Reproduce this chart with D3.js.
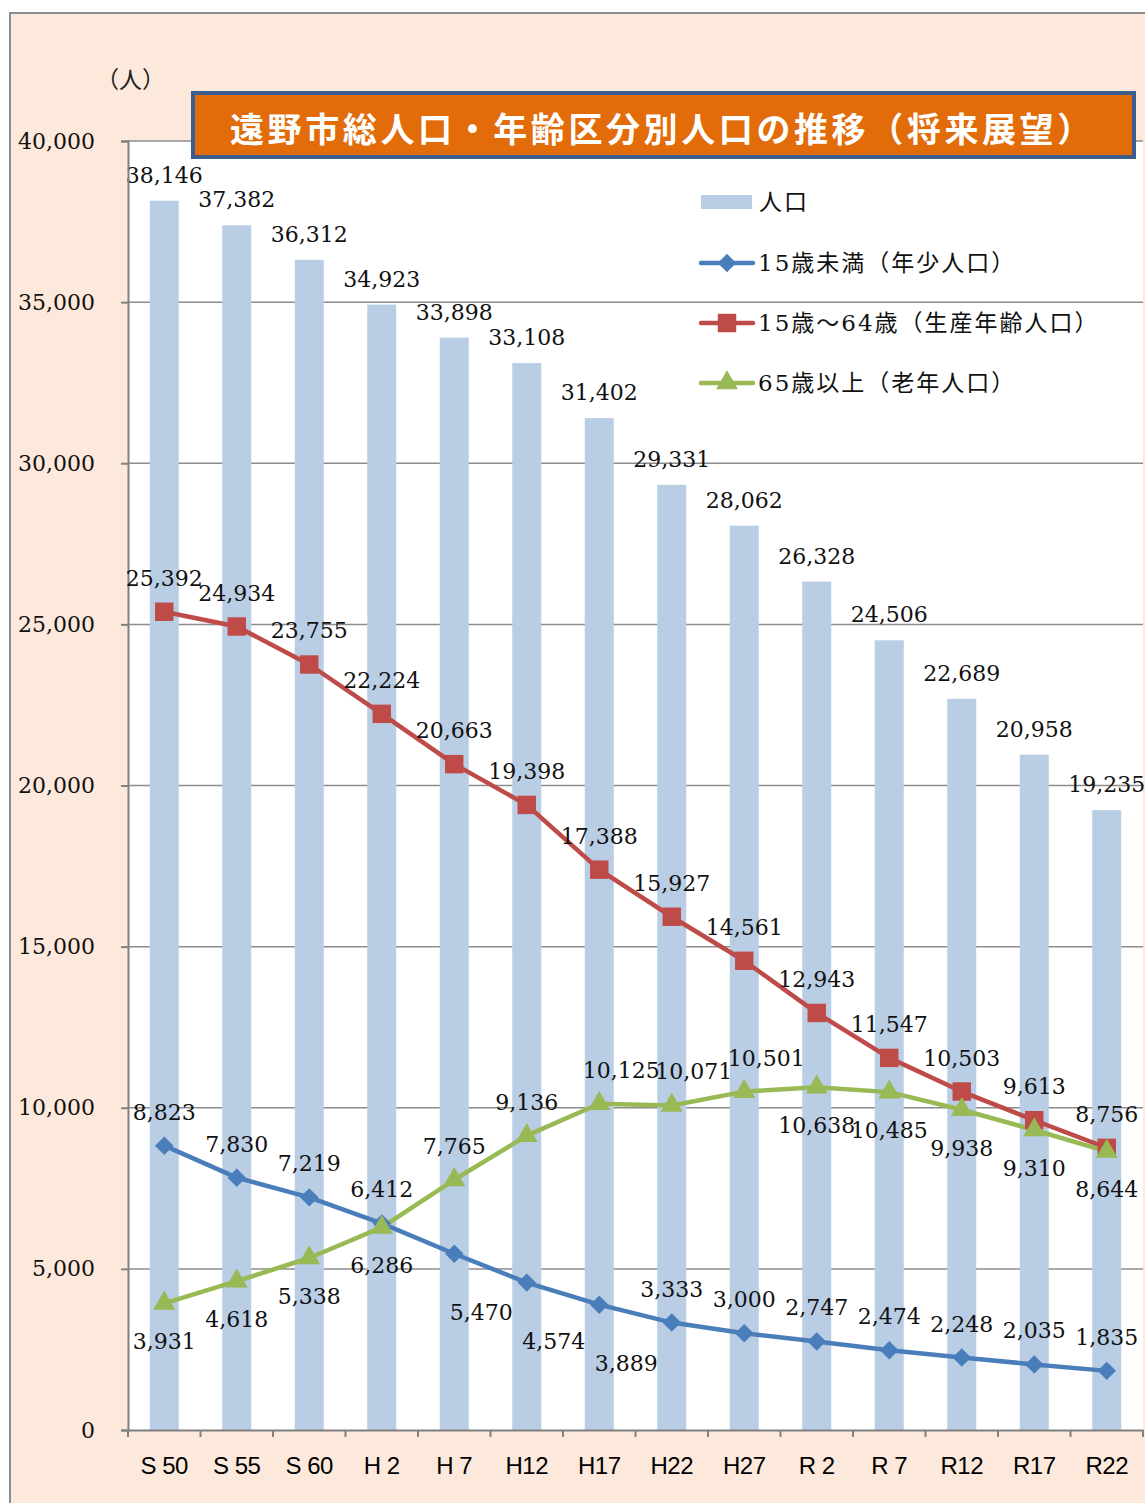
<!DOCTYPE html>
<html lang="ja">
<head>
<meta charset="UTF-8">
<script src="https://cdn.jsdelivr.net/npm/d3@7/dist/d3.min.js"></script>
<style>
  body { margin: 0; background: #fff; }
  svg text { font-family: "DejaVu Serif", "Noto Sans CJK JP", serif; }
</style>
</head>
<body>
<svg id="chart" width="1145" height="1503"></svg>
<script>
// データ
var categories = ["S 50", "S 55", "S 60", "H 2", "H 7", "H12", "H17", "H22", "H27", "R 2", "R 7", "R12", "R17", "R22"];
var total = [38146, 37382, 36312, 34923, 33898, 33108, 31402, 29331, 28062, 26328, 24506, 22689, 20958, 19235];
var under15 = [8823, 7830, 7219, 6412, 5470, 4574, 3889, 3333, 3000, 2747, 2474, 2248, 2035, 1835];
var age15to64 = [25392, 24934, 23755, 22224, 20663, 19398, 17388, 15927, 14561, 12943, 11547, 10503, 9613, 8756];
var over65 = [3931, 4618, 5338, 6286, 7765, 9136, 10125, 10071, 10501, 10638, 10485, 9938, 9310, 8644];
var yTicks = [0, 5000, 10000, 15000, 20000, 25000, 30000, 35000, 40000];
// ラベル位置 (a:上, b:下, ar:右上, br:右下)
var under15Pos = ["a", "a", "a", "a", "br", "br", "br", "a", "a", "a", "a", "a", "a", "a"];
var age15to64Pos = ["a", "a", "a", "a", "a", "a", "a", "a", "a", "a", "a", "a", "a", "a"];
var over65Pos = ["b", "b", "b", "b", "a", "a", "ar", "ar", "ar", "b", "b", "b", "b", "b"];

var svg = d3.select("#chart");
var fmt = d3.format(",");

// 背景
svg.append("rect").attr("width", 1145).attr("height", 1503).attr("fill", "#fff");
svg.append("rect")
    .attr("x", 10).attr("y", 13).attr("width", 1160).attr("height", 1520)
    .attr("fill", "#fde9db").attr("stroke", "#8c8c8c").attr("stroke-width", 2);

var plotLeft = 128, plotRight = 1143, plotTop = 141, plotBottom = 1430;
svg.append("rect")
    .attr("x", plotLeft).attr("y", plotTop)
    .attr("width", plotRight - plotLeft).attr("height", plotBottom - plotTop)
    .attr("fill", "#fff");

var x = d3.scaleBand().domain(categories).range([plotLeft, plotRight]).padding(0);
var y = d3.scaleLinear().domain([0, 40000]).range([plotBottom, plotTop]);

// グリッド
svg.append("g").selectAll("line")
    .data(yTicks.slice(1))
    .enter().append("line")
    .attr("x1", plotLeft).attr("x2", plotRight)
    .attr("y1", function (d) { return y(d); })
    .attr("y2", function (d) { return y(d); })
    .attr("stroke", "#8c8c8c").attr("stroke-width", 1.5);

// 棒
svg.append("g").selectAll("rect")
    .data(total)
    .enter().append("rect")
    .attr("x", function (d, i) { return x(categories[i]) + x.bandwidth() / 2 - 14.5; })
    .attr("width", 29)
    .attr("y", function (d) { return y(d); })
    .attr("height", function (d) { return y(0) - y(d); })
    .attr("fill", "#b9cde5");

svg.append("g").selectAll("text")
    .data(total)
    .enter().append("text")
    .attr("x", function (d, i) { return x(categories[i]) + x.bandwidth() / 2; })
    .attr("y", function (d) { return y(d) - 18; })
    .attr("text-anchor", "middle")
    .attr("font-size", "22px")
    .attr("fill", "#111")
    .text(function (d) { return fmt(d); });

// 軸
var yAxis = svg.append("g")
    .attr("transform", "translate(" + plotLeft + ",0)")
    .call(d3.axisLeft(y).tickValues(yTicks).tickFormat(fmt).tickSize(7).tickPadding(26));
yAxis.select(".domain").attr("stroke", "#808080").attr("stroke-width", 2);
yAxis.selectAll(".tick line").attr("stroke", "#808080").attr("stroke-width", 2);
yAxis.selectAll(".tick text")
    .attr("font-size", "22px").attr("fill", "#111")
    .style("font-family", "'DejaVu Serif', serif");

var xAxis = svg.append("g")
    .attr("transform", "translate(0," + plotBottom + ")")
    .call(d3.axisBottom(x).tickSize(0).tickPadding(27));
xAxis.select(".domain").attr("stroke", "#808080").attr("stroke-width", 2);
xAxis.selectAll(".tick text")
    .attr("font-size", "24px").attr("fill", "#000")
    .attr("letter-spacing", "-0.5px")
    .style("font-family", "'Liberation Sans', Arial, sans-serif");
// 区切り目盛
xAxis.append("g").selectAll("line")
    .data(categories.concat(["end"]))
    .enter().append("line")
    .attr("x1", function (d, i) { return i < categories.length ? x(d) : plotRight; })
    .attr("x2", function (d, i) { return i < categories.length ? x(d) : plotRight; })
    .attr("y1", 0).attr("y2", 7)
    .attr("stroke", "#808080").attr("stroke-width", 2);

svg.append("text")
    .attr("x", 96).attr("y", 88)
    .attr("font-size", "23px").attr("fill", "#222")
    .text("（人）");

// 折れ線
var series = [
    { name: "15歳未満（年少人口）", values: under15, pos: under15Pos, color: "#4a7ebb", marker: d3.symbolSquare, size: 170, rot: 45 },
    { name: "15歳～64歳（生産年齢人口）", values: age15to64, pos: age15to64Pos, color: "#be4b48", marker: d3.symbolSquare, size: 340, rot: 0 },
    { name: "65歳以上（老年人口）", values: over65, pos: over65Pos, color: "#98b954", marker: d3.symbolTriangle, size: 210, rot: 0 }
];

var cx = function (i) { return x(categories[i]) + x.bandwidth() / 2; };
var line = d3.line()
    .x(function (d, i) { return cx(i); })
    .y(function (d) { return y(d); });

series.forEach(function (s) {
    svg.append("path")
        .datum(s.values)
        .attr("d", line)
        .attr("fill", "none")
        .attr("stroke", s.color)
        .attr("stroke-width", 4.5)
        .attr("stroke-linejoin", "round");
});
series.forEach(function (s) {
    svg.append("g").selectAll("path")
        .data(s.values)
        .enter().append("path")
        .attr("transform", function (d, i) { return "translate(" + cx(i) + "," + y(d) + ") rotate(" + s.rot + ")"; })
        .attr("d", d3.symbol().type(s.marker).size(s.size))
        .attr("fill", s.color);
});
series.forEach(function (s) {
    svg.append("g").selectAll("text")
        .data(s.values)
        .enter().append("text")
        .attr("x", function (d, i) {
            var p = s.pos[i];
            return cx(i) + (p == "br" ? 27 : p == "ar" ? 22 : 0);
        })
        .attr("y", function (d, i) {
            var p = s.pos[i];
            var dy = p == "b" ? 46 : p == "br" ? 66 : -26;
            return y(d) + dy;
        })
        .attr("text-anchor", "middle")
        .attr("font-size", "22px")
        .attr("fill", "#111")
        .text(function (d) { return fmt(d); });
});

// タイトル
svg.append("rect")
    .attr("x", 193).attr("y", 93).attr("width", 941).attr("height", 64)
    .attr("fill", "#e36c0a").attr("stroke", "#3b5e8c").attr("stroke-width", 4);
svg.append("text")
    .attr("x", 230).attr("y", 142)
    .attr("font-size", "34px")
    .attr("font-weight", "bold")
    .attr("letter-spacing", "3.6px")
    .attr("fill", "#fff")
    .style("font-family", "'Noto Sans CJK JP', sans-serif")
    .text("遠野市総人口・年齢区分別人口の推移（将来展望）");

// 凡例
var lg = svg.append("g");
lg.append("rect").attr("x", 701).attr("y", 195).attr("width", 51).attr("height", 14).attr("fill", "#b9cde5");
lg.append("text").attr("x", 759).attr("y", 210).attr("font-size", "23px")
    .attr("letter-spacing", "2px").attr("fill", "#111").text("人口");
series.forEach(function (s, k) {
    var ly = 263 + k * 60;
    lg.append("line").attr("x1", 701).attr("x2", 753).attr("y1", ly).attr("y2", ly)
        .attr("stroke", s.color).attr("stroke-width", 4.5).attr("stroke-linecap", "round");
    lg.append("path").attr("transform", "translate(727," + ly + ") rotate(" + s.rot + ")")
        .attr("d", d3.symbol().type(s.marker).size(s.size)).attr("fill", s.color);
    lg.append("text").attr("x", 758).attr("y", ly + 8).attr("font-size", "23px")
        .attr("letter-spacing", "2px").attr("fill", "#111").text(s.name);
});
</script>
</body>
</html>
